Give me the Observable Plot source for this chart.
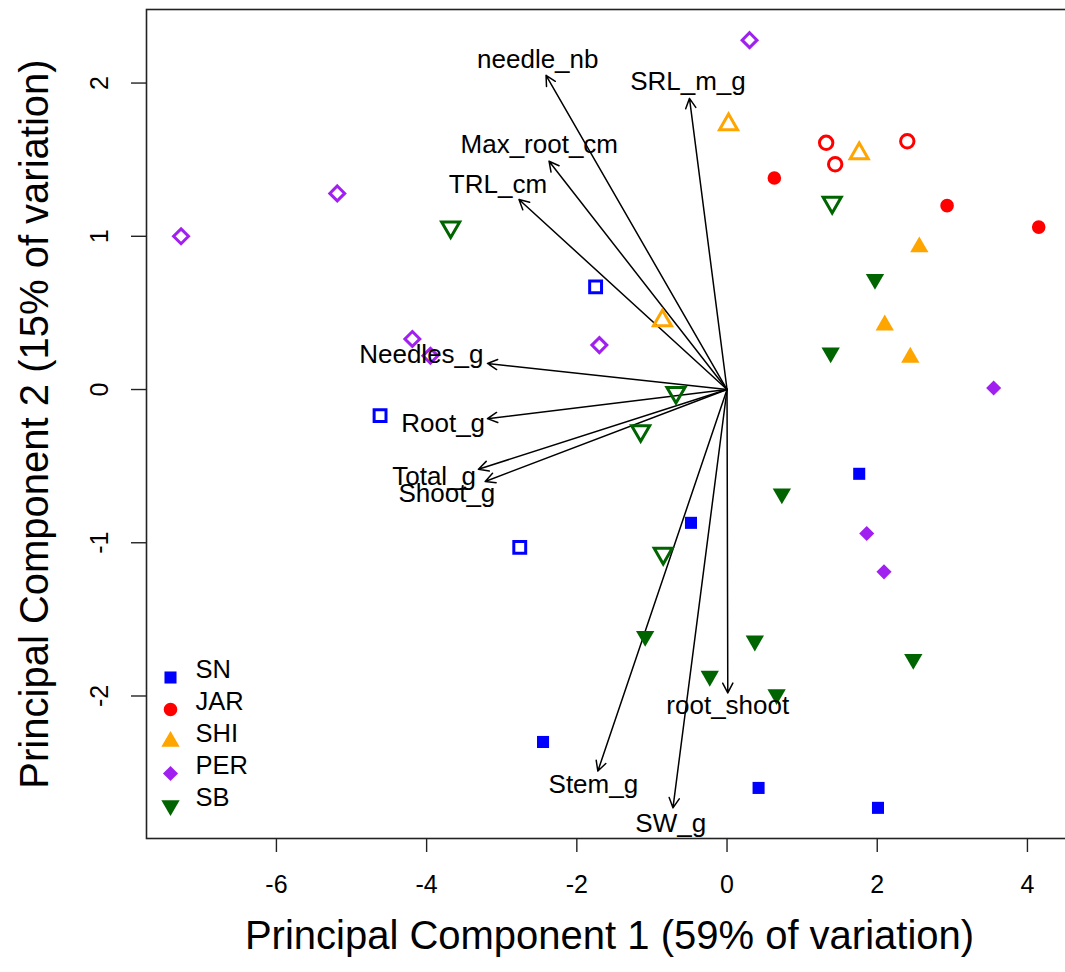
<!DOCTYPE html>
<html>
<head>
<meta charset="utf-8">
<script src="https://cdn.jsdelivr.net/npm/d3@7"></script>
<script src="https://cdn.jsdelivr.net/npm/@observablehq/plot@0.6"></script>
<style>
  body { margin: 0; background: #fff; }
  #chart { width: 1065px; height: 972px; overflow: hidden; position: relative; }
  #chart svg { overflow: hidden; }
</style>
</head>
<body>
<div id="chart"></div>
<script>
// Populations, their colours and plotting symbols
const populations = ["SN", "JAR", "SHI", "PER", "SB"];
const popColors   = ["#0000FF", "#FF0000", "#FFA500", "#A020F0", "#006400"];
const popSymbols  = ["square", "circle", "triangle", "diamond2", "triangle"];
const popRotate   = [0, 0, 0, 0, 180];

// Individual PCA scores (open = hollow symbol, filled = solid symbol)
const samplePop = [
  "SN","SN","SN","SN","SN","SN","SN","SN",
  "JAR","JAR","JAR","JAR","JAR","JAR",
  "SHI","SHI","SHI","SHI","SHI","SHI",
  "PER","PER","PER","PER","PER","PER","PER","PER","PER",
  "SB","SB","SB","SB","SB","SB","SB","SB","SB","SB","SB","SB","SB"
];
const samplePC1 = [
  -1.75, -4.62, -2.76, -2.45, -0.48, 1.76, 0.42, 2.01,
  1.32, 1.44, 2.40, 0.63, 2.93, 4.15,
  0.02, 1.76, -0.86, 2.56, 2.10, 2.44,
  -7.27, -5.19, -4.19, -3.95, -1.70, 0.30, 3.55, 1.86, 2.09,
  -3.68, 1.40, -0.68, -1.15, -0.85, 1.97, 1.38, 0.73, -1.09, 0.37, -0.23, 0.66, 2.48
];
const samplePC2 = [
  0.67, -0.17, -1.03, -2.30, -0.87, -0.55, -2.60, -2.73,
  1.61, 1.47, 1.62, 1.38, 1.20, 1.06,
  1.73, 1.54, 0.45, 0.93, 0.42, 0.21,
  1.00, 1.28, 0.33, 0.22, 0.29, 2.28, 0.01, -0.94, -1.19,
  1.06, 1.22, -0.02, -0.27, -1.07, 0.72, 0.24, -0.68, -1.61, -1.64, -1.87, -1.99, -1.76
];
const sampleOpen = [
  true, true, true, false, false, false, false, false,
  true, true, true, false, false, false,
  true, true, true, false, false, false,
  true, true, true, true, true, true, false, false, false,
  true, true, true, true, true, false, false, false, false, false, false, false, false
];

// Variable loadings (arrow tips) and label anchors
const varNames = ["needle_nb", "SRL_m_g", "Max_root_cm", "TRL_cm", "Needles_g", "Root_g",
                  "Total_g", "Shoot_g", "Stem_g", "SW_g", "root_shoot"];
const loadPC1  = [-2.41, -0.50, -2.37, -2.77, -3.19, -3.19, -3.31, -3.22, -1.72, -0.72, 0.01];
const loadPC2  = [ 2.05,  1.90,  1.49,  1.24,  0.17, -0.19, -0.52, -0.60, -2.49, -2.73, -1.98];
const labelPC1 = [-2.52, -0.52, -2.50, -3.05, -4.07, -3.78, -3.90, -3.73, -1.78, -0.75, 0.01];
const labelPC2 = [ 2.15,  2.01,  1.60,  1.34,  0.23, -0.22, -0.57, -0.68, -2.58, -2.83, -2.06];

const xTicks = [-6, -4, -2, 0, 2, 4];
const yTicks = [-2, -1, 0, 1, 2];
const xTitle = "Principal Component 1 (59% of variation)";
const yTitle = "Principal Component 2 (15% of variation)";

const samples = samplePop.map((p, i) => ({
  pop: p, pc1: samplePC1[i], pc2: samplePC2[i], open: sampleOpen[i]
}));
const loadings = varNames.map((v, i) => ({name: v, x: loadPC1[i], y: loadPC2[i], lx: labelPC1[i], ly: labelPC2[i]}));

const font = "'Liberation Sans', Arial, Helvetica, sans-serif";
const plainNum = d => String(d);   // hyphen-minus, no decimals

// one mark per population and fill style
const pointMarks = [];
populations.forEach((p, k) => {
  const filled = samples.filter(d => d.pop === p && !d.open);
  const hollow = samples.filter(d => d.pop === p && d.open);
  pointMarks.push(Plot.dot(hollow, {
    x: "pc1", y: "pc2", symbol: () => popSymbols[k], rotate: popRotate[k],
    r: 6.7, fill: "none", stroke: popColors[k], strokeWidth: 3
  }));
  pointMarks.push(Plot.dot(filled, {
    x: "pc1", y: "pc2", symbol: () => popSymbols[k], rotate: popRotate[k],
    r: 6.8, fill: popColors[k], stroke: "none"
  }));
});

// legend in the lower-left corner of the panel
const legendMarks = [];
populations.forEach((p, k) => {
  const dy = -161 + k * 32;
  legendMarks.push(Plot.dot([p], {
    frameAnchor: "bottom-left", dx: 24, dy,
    symbol: () => popSymbols[k], rotate: popRotate[k], r: 6.8, fill: popColors[k]
  }));
  legendMarks.push(Plot.text([p], {
    frameAnchor: "bottom-left", dx: 49, dy, text: d => d,
    textAnchor: "start", fontSize: 25.5, fill: "#000"
  }));
});

const chart = Plot.plot({
  width: 1065,
  height: 972,
  marginLeft: 146,
  marginRight: -7,
  marginTop: 9,
  marginBottom: 134,
  style: {fontFamily: font, background: "#fff", overflow: "hidden"},
  x: {domain: [-7.73, 4.60]},
  y: {domain: [-2.93, 2.48]},
  symbol: {type: "identity"},
  marks: [
    Plot.frame({stroke: "#222", strokeWidth: 1.6}),
    Plot.axisX(xTicks, {tickSize: 14, tickPadding: 23, fontSize: 25, label: null, tickFormat: plainNum, stroke: "#222", strokeWidth: 1.4}),
    Plot.axisY(yTicks, {tickSize: 15, tickPadding: 24, fontSize: 25, label: null, tickFormat: plainNum, tickRotate: -90, stroke: "#222", strokeWidth: 1.4}),
    Plot.text([xTitle], {frameAnchor: "bottom", dy: 110, text: d => d, fontSize: 40, fill: "#000"}),
    Plot.text([yTitle], {frameAnchor: "left", textAnchor: "middle", dx: -111, rotate: -90, text: d => d, fontSize: 40, fill: "#000"}),
    Plot.arrow(loadings, {x1: 0, y1: 0, x2: "x", y2: "y", stroke: "#000", strokeWidth: 1.5, headLength: 11, headAngle: 55}),
    ...pointMarks,
    Plot.text(loadings, {x: "lx", y: "ly", text: "name", fontSize: 26, fill: "#000"}),
    ...legendMarks
  ]
});
document.getElementById("chart").appendChild(chart);
</script>
</body>
</html>
